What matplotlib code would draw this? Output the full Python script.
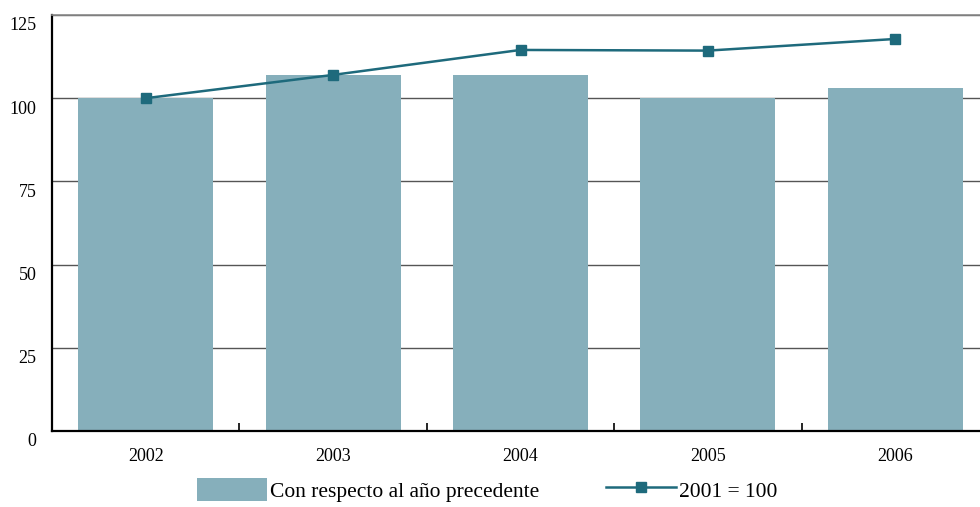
import numpy as np
import matplotlib.pyplot as plt
import matplotlib.transforms as mtransforms
from matplotlib.ticker import FixedLocator

# data
YEARS = ['2002', '2003', '2004', '2005', '2006']
PREV_YEAR = [100, 107, 107, 100, 103]          # con respecto al año precedente
INDEX_2001 = [100, 107, 114.5, 114.3, 117.8]   # 2001 = 100
Y_TICKS = [0, 25, 50, 75, 100, 125]

BAR_COLOR = '#86afbb'
LINE_COLOR = '#1e6a7c'

plt.rcParams['font.family'] = ['Liberation Serif', 'DejaVu Serif']

fig = plt.figure(figsize=(9.8, 5.07), dpi=100)
ax = fig.add_axes([52/980, 1 - 431/507, 937/980, (431 - 15)/507])

x = np.arange(len(YEARS))
bars = ax.bar(x, PREV_YEAR, width=0.72, color=BAR_COLOR, zorder=2,
              label='Con respecto al año precedente')
line, = ax.plot(x, INDEX_2001, color=LINE_COLOR, lw=1.8, marker='s',
                markersize=7.5, zorder=3, label='2001 = 100')

ax.set_xlim(-0.5, len(YEARS) - 0.5)
ax.set_ylim(0, 125)
ax.set_yticks(Y_TICKS)
ax.set_yticklabels([str(t) for t in Y_TICKS], fontsize=13)
ax.set_xticks(x)
ax.set_xticklabels(YEARS, fontsize=13)
ax.xaxis.set_minor_locator(FixedLocator(x[:-1] + 0.5))

ax.tick_params(axis='y', length=0, pad=11)
ax.tick_params(axis='x', which='major', length=0, pad=12)
ax.tick_params(axis='x', which='minor', direction='in', length=6, width=1.2, color='black')

# y labels sit a bit below their grid lines in the original
off = mtransforms.ScaledTranslation(0, -9/100, fig.dpi_scale_trans)
for lab in ax.get_yticklabels():
    lab.set_transform(lab.get_transform() + off)

ax.yaxis.grid(True, color='#555555', lw=1.0, zorder=1)
ax.set_axisbelow(True)

for side in ['left', 'bottom']:
    ax.spines[side].set_color('black')
    ax.spines[side].set_linewidth(1.6)
ax.spines['top'].set_color('#888888')
ax.spines['top'].set_linewidth(1.2)
ax.spines['right'].set_visible(False)

fig.legend(handles=[bars, line], loc='upper left',
           bbox_to_anchor=(197/980, 1 - 478/507), ncol=2, frameon=False,
           fontsize=15.5, handlelength=3.25, handleheight=1.25,
           handletextpad=0.14, columnspacing=3.1, borderpad=0, borderaxespad=0)

fig.savefig('out.png', dpi=100)
